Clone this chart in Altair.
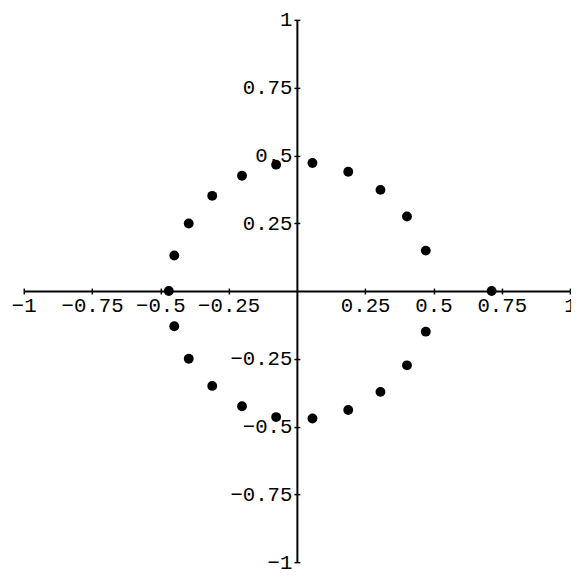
import altair as alt
import pandas as pd

# Upper-half points
upper_x = [-0.449, -0.396, -0.310, -0.201, -0.076, 0.057, 0.188, 0.306, 0.403, 0.472]
upper_y = [0.131, 0.249, 0.351, 0.425, 0.466, 0.472, 0.440, 0.373, 0.275, 0.149]
# Lower-half points
lower_x = [-0.449, -0.396, -0.310, -0.201, -0.076, 0.057, 0.188, 0.306, 0.403, 0.472]
lower_y = [-0.130, -0.250, -0.350, -0.425, -0.465, -0.470, -0.439, -0.372, -0.274, -0.150]
# Points on the real axis
axis_x = [-0.469, 0.713]
axis_y = [0.0, 0.0]

tick_values = [-1, -0.75, -0.5, -0.25, 0.25, 0.5, 0.75, 1]

df = pd.DataFrame({
    "x": upper_x + lower_x + axis_x,
    "y": upper_y + lower_y + axis_y,
})

FONT = "Liberation Mono"
W = 554
H = 550

xscale = alt.Scale(domain=[-1, 1], nice=False, zero=False)
yscale = alt.Scale(domain=[-1, 1], nice=False, zero=False)

common_axis = dict(
    values=tick_values, grid=False, title=None,
    domainColor="black", tickColor="black",
    labelColor="black", labelFont=FONT, labelFontSize=21,
    labelExpr="format(datum.value, '~g')",
    labelOverlap=False, labelFlush=False,
)

points = alt.Chart(df).mark_circle(size=100, color="black", opacity=1).encode(
    x=alt.X("x:Q", scale=xscale,
            axis=alt.Axis(orient="bottom", offset=-(H / 2), domainWidth=2,
                          tickWidth=1.5, tickSize=3, labelPadding=1,
                          **common_axis)),
    y=alt.Y("y:Q", scale=yscale,
            axis=alt.Axis(orient="left", offset=-(W / 2), domainWidth=2,
                          tickWidth=1.5, tickSize=3, labelPadding=2,
                          labelBaseline="middle", **common_axis)),
)

inner_ticks = alt.Chart(df).mark_circle(size=0, opacity=0).encode(
    x=alt.X("x:Q", scale=xscale,
            axis=alt.Axis(orient="top", offset=-(H / 2), domain=False,
                          labels=False, values=tick_values, grid=False,
                          title=None, tickColor="black", tickWidth=1.5,
                          tickSize=3)),
    y=alt.Y("y:Q", scale=yscale,
            axis=alt.Axis(orient="right", offset=-(W / 2), domain=False,
                          labels=False, values=tick_values, grid=False,
                          title=None, tickColor="black", tickWidth=1.5,
                          tickSize=3)),
)

chart = alt.layer(points, inner_ticks).resolve_axis(
    x="independent", y="independent"
).properties(
    width=W, height=H,
    autosize=alt.AutoSizeParams(type="none"),
    padding={"left": 16, "top": 8, "right": 1, "bottom": 10},
    background="white",
).configure_view(stroke=None)

chart.save("out.html", embed_options={"renderer": "svg", "actions": False})
